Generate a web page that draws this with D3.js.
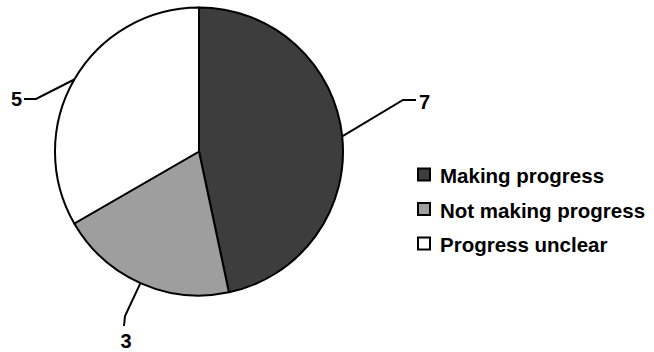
<!DOCTYPE html>
<html><head><meta charset="utf-8">
<script src="https://cdn.jsdelivr.net/npm/d3@7"></script>
<style>body{margin:0;background:#fff}svg{display:block}</style>
</head><body>
<svg id="c" width="654" height="352"></svg>
<script>
const categories = ["Making progress", "Not making progress", "Progress unclear"];
const values = [7, 3, 5];
const colors = ["#3d3d3d", "#9e9e9e", "#ffffff"];

const svg = d3.select("#c");
const cx = 199, cy = 151.5, r = 144;
const font = "Liberation Sans, Arial, Helvetica, sans-serif";
const g = svg.append("g").attr("transform", `translate(${cx},${cy})`);
const pie = d3.pie().sort(null).value(d => d)(values);
const arc = d3.arc().innerRadius(0).outerRadius(r);
g.selectAll("path").data(pie).enter().append("path")
  .attr("d", arc).attr("fill", (d, i) => colors[i])
  .attr("stroke", "#000").attr("stroke-width", 2).attr("stroke-linejoin", "round");

const leaders = [
  {elbow: [403, 100], end: [416, 100], text: [419, 102], anchor: "start"},
  {elbow: [125, 316], end: [124, 326], text: [126, 341], anchor: "middle"},
  {elbow: [36, 99], end: [24, 99], text: [22, 99], anchor: "end"}
];
pie.forEach((d, i) => {
  const a = (d.startAngle + d.endAngle) / 2;
  const p0 = [cx + r * Math.sin(a), cy - r * Math.cos(a)];
  const L = leaders[i];
  svg.append("polyline")
    .attr("points", [p0, L.elbow, L.end].map(p => p.join(",")).join(" "))
    .attr("fill", "none").attr("stroke", "#000").attr("stroke-width", 2);
  svg.append("text").attr("x", L.text[0]).attr("y", L.text[1])
    .attr("text-anchor", L.anchor).attr("dominant-baseline", "central")
    .attr("font-family", font)
    .attr("font-weight", "bold").attr("font-size", 20).text(values[i]);
});

const leg = svg.append("g");
categories.forEach((c, i) => {
  const y = 174.5 + i * 34.5;
  leg.append("rect").attr("x", 418).attr("y", y - 6).attr("width", 12).attr("height", 12)
    .attr("fill", colors[i]).attr("stroke", "#000").attr("stroke-width", 2);
  leg.append("text").attr("x", 440).attr("y", y + 1).attr("dominant-baseline", "central")
    .attr("font-family", font)
    .attr("font-weight", "bold").attr("font-size", 20.5).text(c);
});
</script>
</body></html>
